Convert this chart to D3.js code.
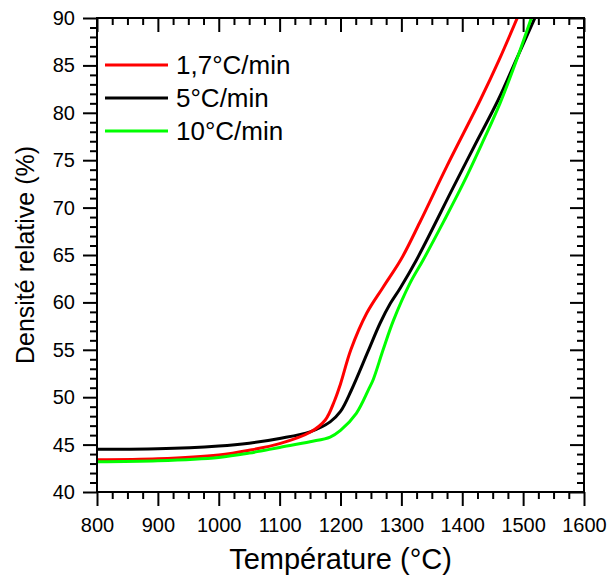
<!DOCTYPE html>
<html>
<head>
<meta charset="utf-8">
<script src="https://cdn.jsdelivr.net/npm/d3@7"></script>
<style>
  html, body { margin: 0; padding: 0; background: #fff; }
  svg { display: block; }
  text { font-family: "Liberation Sans", Arial, sans-serif; fill: #000; }
</style>
</head>
<body>
<svg id="chart" width="608" height="578"></svg>
<script>
// ---- Data ----
const seriesNames = ["1,7°C/min", "5°C/min", "10°C/min"];
const seriesColors = ["#ff0000", "#000000", "#00ff00"];

const tempRed = [800, 900, 1000, 1050, 1100, 1150, 1175, 1190, 1200, 1217, 1243, 1270, 1300, 1330, 1375, 1430, 1460, 1491];
const densRed = [43.4, 43.5, 43.9, 44.4, 45.1, 46.3, 47.6, 49.6, 51.4, 55.0, 58.85, 61.6, 64.6, 68.4, 74.4, 81.4, 85.5, 90.1];

const tempBlack = [800, 900, 1000, 1050, 1100, 1150, 1183, 1200, 1218, 1245, 1265, 1282, 1298, 1325, 1385, 1420, 1459, 1490, 1520];
const densBlack = [44.5, 44.55, 44.85, 45.15, 45.65, 46.35, 47.4, 48.5, 50.76, 54.8, 57.8, 59.9, 61.5, 64.5, 72.1, 76.5, 81.35, 85.8, 90.1];

const tempGreen = [800, 900, 1000, 1050, 1100, 1150, 1183, 1200, 1226, 1246, 1254, 1270, 1287, 1314, 1336, 1370, 1402, 1432, 1462, 1490, 1514];
const densGreen = [43.2, 43.3, 43.65, 44.1, 44.7, 45.3, 45.8, 46.5, 48.3, 50.8, 51.9, 55.0, 58.1, 62.0, 64.5, 68.6, 72.6, 76.7, 81.0, 85.7, 90.1];

const xTicks = [800, 900, 1000, 1100, 1200, 1300, 1400, 1500, 1600];
const yTicks = [40, 45, 50, 55, 60, 65, 70, 75, 80, 85, 90];
const xLabel = "Température (°C)";
const yLabel = "Densité relative (%)";

// ---- Layout ----
const svg = d3.select("#chart");
const L = 97, R = 584, T = 18, B = 492;

const x = d3.scaleLinear().domain([800, 1600]).range([L, R]);
const y = d3.scaleLinear().domain([40, 90]).range([B, T]);

const xMinor = d3.range(800, 1601, 25).filter(v => v % 100 !== 0);
const yMinor = d3.range(40, 91, 1).filter(v => v % 5 !== 0);

const MAJ = 14, MIN = 7;

svg.append("defs").append("clipPath").attr("id", "clip")
  .append("rect").attr("x", L).attr("y", T).attr("width", R - L).attr("height", B - T);

const series = [
  { t: tempRed, v: densRed },
  { t: tempBlack, v: densBlack },
  { t: tempGreen, v: densGreen }
];
const line = d3.line().x(d => x(d[0])).y(d => y(d[1])).curve(d3.curveCatmullRom.alpha(0.5));
const drawOrder = [1, 0, 2];
const gLines = svg.append("g").attr("clip-path", "url(#clip)");
drawOrder.forEach(i => {
  const s = series[i];
  gLines.append("path")
    .datum(s.t.map((t, k) => [t, s.v[k]]))
    .attr("fill", "none")
    .attr("stroke", seriesColors[i])
    .attr("stroke-width", 3)
    .attr("stroke-linejoin", "round")
    .attr("d", line);
});

function styleAxis(g) {
  g.select(".domain").remove();
  g.selectAll("line").attr("stroke", "#000").attr("stroke-width", 2);
  g.selectAll("text").attr("font-size", 20).style("font-family", '"Liberation Sans", Arial, sans-serif');
}

const gxMin = svg.append("g").attr("transform", `translate(0,${B})`)
  .call(d3.axisBottom(x).tickValues(xMinor).tickSize(MIN).tickFormat(""));
styleAxis(gxMin);
const gx = svg.append("g").attr("transform", `translate(0,${B})`)
  .call(d3.axisBottom(x).tickValues(xTicks).tickSize(MAJ).tickPadding(12).tickFormat(d3.format("d")));
styleAxis(gx);
const gtMin = svg.append("g").attr("transform", `translate(0,${T})`)
  .call(d3.axisTop(x).tickValues(xMinor).tickSize(-MIN).tickFormat(""));
styleAxis(gtMin);
const gt = svg.append("g").attr("transform", `translate(0,${T})`)
  .call(d3.axisTop(x).tickValues(xTicks).tickSize(-MAJ).tickFormat(""));
styleAxis(gt);
const gyMin = svg.append("g").attr("transform", `translate(${L},0)`)
  .call(d3.axisLeft(y).tickValues(yMinor).tickSize(MIN).tickFormat(""));
styleAxis(gyMin);
const gy = svg.append("g").attr("transform", `translate(${L},0)`)
  .call(d3.axisLeft(y).tickValues(yTicks).tickSize(MAJ).tickPadding(8).tickFormat(d3.format("d")));
styleAxis(gy);
const grMin = svg.append("g").attr("transform", `translate(${R},0)`)
  .call(d3.axisRight(y).tickValues(yMinor).tickSize(-MIN).tickFormat(""));
styleAxis(grMin);
const gr = svg.append("g").attr("transform", `translate(${R},0)`)
  .call(d3.axisRight(y).tickValues(yTicks).tickSize(-MAJ).tickFormat(""));
styleAxis(gr);

svg.append("rect").attr("x", L).attr("y", T).attr("width", R - L).attr("height", B - T)
  .attr("fill", "none").attr("stroke", "#000").attr("stroke-width", 2);

svg.append("text").attr("x", (L + R) / 2).attr("y", 569)
  .attr("text-anchor", "middle").attr("font-size", 29).text(xLabel);
svg.append("text").attr("transform", `translate(34,${(T + B) / 2}) rotate(-90)`)
  .attr("text-anchor", "middle").attr("font-size", 25).text(yLabel);

const legY0 = 65, legDy = 33;
seriesNames.forEach((name, i) => {
  const yy = legY0 + i * legDy;
  svg.append("line").attr("x1", 105).attr("x2", 168).attr("y1", yy).attr("y2", yy)
    .attr("stroke", seriesColors[i]).attr("stroke-width", 3);
  svg.append("text").attr("x", 176).attr("y", yy).attr("dy", "0.36em")
    .attr("font-size", 26).text(name);
});
</script>
</body>
</html>
